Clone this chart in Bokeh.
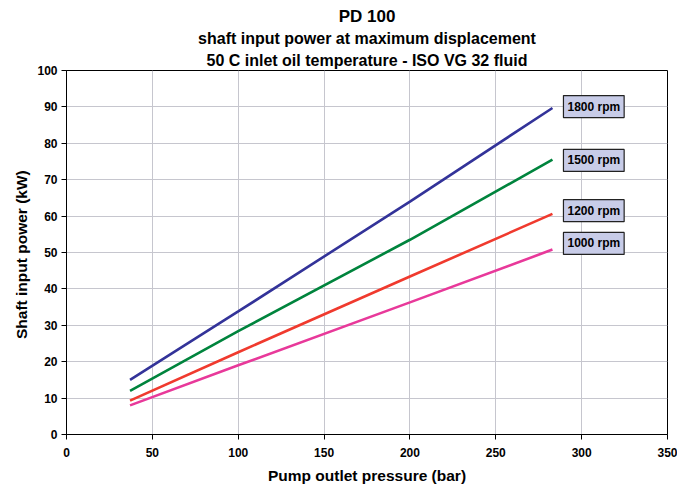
from bokeh.plotting import figure
from bokeh.models import Range1d, FixedTicker, Title, Label, Spacer
from bokeh.layouts import row, column
from bokeh.embed import file_html
from bokeh.resources import INLINE

# Data
pressure = [37, 100, 200, 283]           # bar
p1800 = [15.0, 33.8, 64.0, 89.7]         # kW
p1500 = [12.0, 28.4, 53.5, 75.5]
p1200 = [9.3, 22.6, 43.4, 60.6]
p1000 = [8.0, 19.0, 36.3, 50.8]
series_names = ["1800 rpm", "1500 rpm", "1200 rpm", "1000 rpm"]
series_vals = [p1800, p1500, p1200, p1000]
colors = ["#333399", "#00843d", "#f03a2e", "#e8399a"]
label_nudge = [0.4, -0.2, 0.9, 1.7]       # kW shift of the tag boxes

x_ticks = [0, 50, 100, 150, 200, 250, 300, 350]
y_ticks = [0, 10, 20, 30, 40, 50, 60, 70, 80, 90, 100]

FONT = "Liberation Sans"

p = figure(frame_width=601, frame_height=364, output_backend="svg", toolbar_location=None,
           title=None, x_range=Range1d(0, 350), y_range=Range1d(0, 100),
           min_border_left=10, min_border_right=10, min_border_top=10, min_border_bottom=10)

p.background_fill_color = "white"
p.border_fill_color = "white"
p.outline_line_color = "black"
p.outline_line_width = 1

for ax in (p.xaxis[0], p.yaxis[0]):
    ax.axis_line_color = "black"
    ax.major_tick_line_color = "black"
    ax.major_tick_out = 5
    ax.major_tick_in = 0
    ax.minor_tick_line_color = None
    ax.major_label_text_font = FONT
    ax.major_label_text_font_style = "bold"
    ax.major_label_text_font_size = "12px"
    ax.major_label_text_color = "black"
    ax.axis_label_text_font = FONT
    ax.axis_label_text_font_style = "bold"
    ax.axis_label_text_font_size = "15.5px"
    ax.axis_label_text_color = "black"

p.xaxis.ticker = FixedTicker(ticks=x_ticks)
p.yaxis.ticker = FixedTicker(ticks=y_ticks)
p.xaxis.major_label_standoff = 8
p.yaxis.major_label_standoff = 4
p.xaxis.axis_label = "Pump outlet pressure (bar)"
p.yaxis.axis_label = "Shaft input power  (kW)"
p.xaxis.axis_label_standoff = 7
p.yaxis.axis_label_standoff = 4

p.xgrid.ticker = FixedTicker(ticks=x_ticks)
p.ygrid.ticker = FixedTicker(ticks=y_ticks)
p.grid.grid_line_color = "#c6c6ce"
p.grid.grid_line_width = 1

for name, vals, c, nudge in zip(series_names, series_vals, colors, label_nudge):
    p.line(pressure, vals, line_color=c, line_width=2.6)
    p.add_layout(Label(x=pressure[-1], y=vals[-1] + nudge, x_offset=11, text=name,
                       text_font=FONT, text_font_style="bold", text_font_size="12px",
                       text_color="black", text_align="left", text_baseline="middle",
                       background_fill_color="#c8cce8", border_line_color="#222222",
                       border_line_width=1.2, padding=(4, 4)))

for txt, size, so in [("50 C inlet oil temperature - ISO VG 32 fluid", "16px", 4),
                      ("shaft input power at maximum displacement", "16px", 1),
                      ("PD 100", "17px", 3)]:
    p.add_layout(Title(text=txt, align="center", text_font=FONT, text_font_style="bold",
                       text_font_size=size, text_color="black", standoff=so), "above")

layout = column(Spacer(height=3), row(Spacer(width=10), p))
open("out.html", "w").write(file_html(layout, INLINE))
